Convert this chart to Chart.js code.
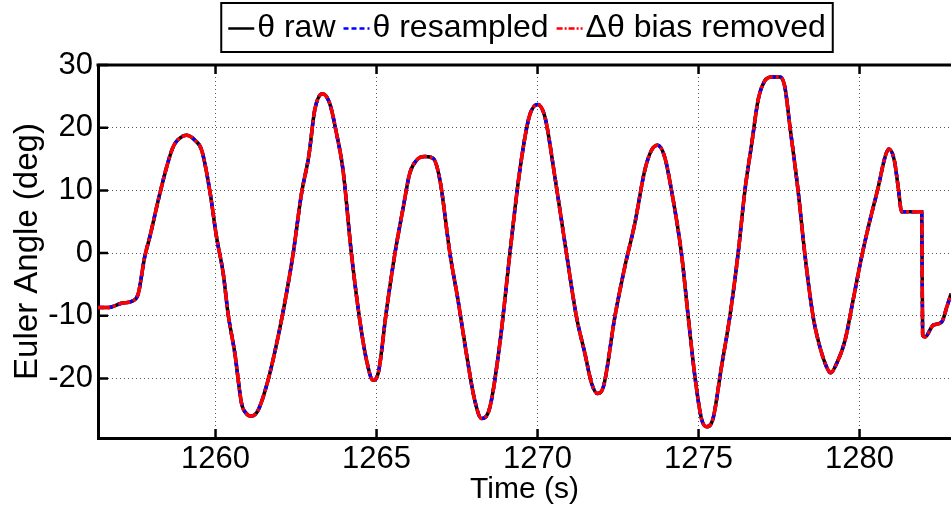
<!DOCTYPE html>
<html>
<head>
<meta charset="utf-8">
<script src="https://cdn.jsdelivr.net/npm/chart.js@4.4.1/dist/chart.umd.min.js"></script>
<style>
  html, body { margin: 0; padding: 0; background: #fff; }
  canvas { display: block; }
</style>
</head>
<body>
<canvas id="euler" width="951" height="511"></canvas>
<script>
// values
const timeS = [
    1256.35, 1256.66, 1257.08, 1257.44, 1257.60, 1257.80, 1257.96, 1258.22, 1258.48, 1258.68,
    1258.84, 1259.10, 1259.36, 1259.57, 1259.82, 1260.03, 1260.24, 1260.39, 1260.60, 1260.81,
    1260.96, 1261.12, 1261.32, 1261.63, 1261.94, 1262.20, 1262.41, 1262.67, 1262.90, 1263.08,
    1263.32, 1263.55, 1263.76, 1263.96, 1264.22, 1264.48, 1264.69, 1264.89, 1265.05, 1265.31,
    1265.57, 1265.83, 1266.03, 1266.24, 1266.50, 1266.76, 1266.97, 1267.28, 1267.53, 1267.79,
    1268.05, 1268.26, 1268.52, 1268.83, 1269.14, 1269.45, 1269.74, 1270.00, 1270.23, 1270.54,
    1270.90, 1271.21, 1271.47, 1271.68, 1271.86, 1272.04, 1272.40, 1272.71, 1273.02, 1273.33,
    1273.54, 1273.73, 1273.95, 1274.16, 1274.47, 1274.68, 1274.89, 1275.09, 1275.25, 1275.45,
    1275.71, 1275.97, 1276.23, 1276.44, 1276.65, 1276.85, 1277.06, 1277.27, 1277.53, 1277.68,
    1277.84, 1278.09, 1278.30, 1278.56, 1278.77, 1278.98, 1279.10, 1279.29, 1279.55, 1279.80,
    1280.04, 1280.27, 1280.58, 1280.79, 1280.91, 1281.08, 1281.20, 1281.31, 1281.93, 1281.96,
    1282.03, 1282.29, 1282.55, 1282.71, 1282.84
];
const thetaRaw = [
    -8.7, -8.7, -8.0, -7.6, -6.5, -0.6, 2.6, 8.4, 13.7, 16.9,
    18.1, 18.8, 18.0, 16.4, 10.0, 2.6, -3.3, -9.7, -16.0, -24.0,
    -25.6, -26.0, -25.1, -20.3, -13.4, -6.5, -0.1, 9.5, 15.6, 22.8,
    25.4, 23.8, 19.0, 13.2, -0.1, -10.7, -17.1, -20.3, -19.2, -9.1,
    -0.1, 7.3, 12.7, 14.8, 15.4, 15.1, 11.6, -0.1, -7.5, -16.0,
    -23.5, -26.4, -24.6, -14.4, -0.1, 13.2, 21.7, 23.7, 21.7, 12.1,
    -0.1, -10.2, -16.0, -20.8, -22.4, -21.4, -10.2, -2.2, 4.7, 13.2,
    16.4, 17.2, 15.3, 10.0, -0.1, -10.2, -19.8, -26.4, -27.7, -26.4,
    -18.2, -10.2, 0.0, 10.0, 17.4, 24.4, 27.5, 28.1, 28.1, 26.5,
    20.1, 10.0, -0.1, -10.2, -15.0, -18.2, -19.1, -17.6, -13.9, -7.5,
    -1.2, 4.1, 10.5, 15.3, 16.6, 14.8, 10.5, 6.6, 6.6, -13.1,
    -13.4, -11.5, -11.0, -8.6, -6.5
];
// the three traces lie on top of each other in the picture
const thetaResampled = thetaRaw.slice();
const thetaBiasRemoved = thetaRaw.slice();

const seriesLabels = ["\u03b8 raw", "\u03b8 resampled", "\u0394\u03b8 bias removed"];
const xTicks = [1260, 1265, 1270, 1275, 1280];
const yTicks = [-20, -10, 0, 10, 20, 30];
const X_MIN = 1256.35, X_MAX = 1282.84;
const Y_MIN = -29.5, Y_MAX = 30;

const FONT = "'Liberation Sans', Arial, sans-serif";
const seriesStyle = [
    { color: "#000000", dash: [], order: 3 },
    { color: "#0000ff", dash: [6, 4], order: 2 },
    { color: "#ff0000", dash: [12, 3, 3, 3], order: 1 }
];

function toPoints(ys) {
    return timeS.map((t, i) => ({ x: t, y: ys[i] }));
}

// MATLAB style: ticks pointing inward, top border, boxed legend
const matlabFrame = {
    id: "matlabFrame",
    afterDatasetsDraw(chart) {
        const ctx = chart.ctx;
        const a = chart.chartArea;
        const xs = chart.scales.x, ys = chart.scales.y;
        ctx.save();
        ctx.strokeStyle = "#000";
        ctx.lineWidth = 2.5;
        ctx.beginPath();
        xTicks.forEach(v => {
            const px = xs.getPixelForValue(v);
            ctx.moveTo(px, a.bottom); ctx.lineTo(px, a.bottom - 9);
            ctx.moveTo(px, a.top); ctx.lineTo(px, a.top + 9);
        });
        yTicks.forEach(v => {
            const py = ys.getPixelForValue(v);
            ctx.moveTo(a.left, py); ctx.lineTo(a.left + 10, py);
        });
        ctx.stroke();
        ctx.lineWidth = 3;
        ctx.beginPath();
        ctx.moveTo(a.left - 1.5, a.top); ctx.lineTo(a.right, a.top);
        ctx.stroke();
        ctx.restore();
    },
    afterDraw(chart) {
        const ctx = chart.ctx;
        ctx.save();
        ctx.font = "32px " + FONT;
        const sample = 26, gap = 3, itemGap = 8, pad = 7;
        const widths = seriesLabels.map(s => ctx.measureText(s).width);
        let total = pad * 2;
        widths.forEach((w, i) => { total += sample + gap + w + (i ? itemGap : 0); });
        const cx = 527, top = 3, h = 49;
        const left = cx - total / 2;
        ctx.fillStyle = "#fff";
        ctx.fillRect(left, top, total, h);
        ctx.strokeStyle = "#000";
        ctx.lineWidth = 2;
        ctx.strokeRect(left, top, total, h);
        let x = left + pad;
        const midY = top + h / 2 + 1;
        seriesLabels.forEach((s, i) => {
            if (i) x += itemGap;
            ctx.strokeStyle = seriesStyle[i].color;
            ctx.lineWidth = 2.5;
            ctx.setLineDash(i === 1 ? [5, 3] : (i === 2 ? [6, 2, 2, 2] : []));
            ctx.beginPath();
            ctx.moveTo(x, midY); ctx.lineTo(x + sample, midY);
            ctx.stroke();
            ctx.setLineDash([]);
            x += sample + gap;
            ctx.fillStyle = "#000";
            ctx.textBaseline = "middle";
            ctx.textAlign = "left";
            ctx.fillText(s, x, midY);
            x += widths[i];
        });
        ctx.restore();
    }
};

window.onload = function () {
    const ctx = document.getElementById("euler");
    const sets = [thetaRaw, thetaResampled, thetaBiasRemoved].map((ys, i) => ({
        label: seriesLabels[i],
        data: toPoints(ys),
        order: seriesStyle[i].order,
        borderColor: seriesStyle[i].color,
        borderDash: seriesStyle[i].dash,
        borderWidth: 3.5,
        fill: false,
        pointRadius: 0,
        cubicInterpolationMode: "monotone"
    }));

    new Chart(ctx, {
        type: "line",
        data: { datasets: sets },
        options: {
            responsive: false,
            animation: false,
            layout: { padding: { top: 65, right: 0, left: 0, bottom: 0 } },
            plugins: { legend: { display: false }, tooltip: { enabled: false } },
            scales: {
                x: {
                    type: "linear",
                    min: X_MIN,
                    max: X_MAX,
                    afterBuildTicks: s => { s.ticks = xTicks.map(v => ({ value: v })); },
                    afterFit: s => { s.height = 73; },
                    grid: { color: "#555", lineWidth: 1, drawTicks: false },
                    border: { color: "#000", width: 3, dash: [1, 3] },
                    ticks: {
                        color: "#000", font: { size: 31, family: FONT }, padding: 3, maxRotation: 0,
                        callback: v => String(v)
                    },
                    title: {
                        display: true, text: "Time (s)", color: "#000",
                        font: { size: 30, family: FONT, lineHeight: 1 },
                        padding: { top: 0, bottom: 6 }
                    }
                },
                y: {
                    min: Y_MIN,
                    max: Y_MAX,
                    afterBuildTicks: s => { s.ticks = yTicks.map(v => ({ value: v })); },
                    afterFit: s => { s.width = 98; },
                    grid: { color: "#555", lineWidth: 1, drawTicks: false },
                    border: { color: "#000", width: 3, dash: [1, 3] },
                    ticks: {
                        color: "#000", font: { size: 31, family: FONT }, padding: 5,
                        callback: v => String(v)
                    },
                    title: {
                        display: true, text: "Euler Angle (deg)", color: "#000",
                        font: { size: 33, family: FONT, lineHeight: 1 },
                        padding: { top: 11, bottom: 0 }
                    }
                }
            }
        },
        plugins: [matlabFrame]
    });
}
</script>
</body>
</html>
